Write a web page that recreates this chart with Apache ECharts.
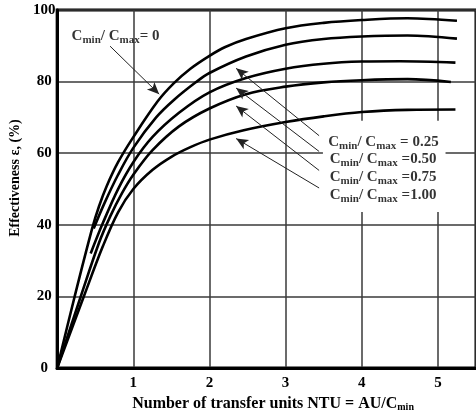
<!DOCTYPE html>
<html>
<head>
<meta charset="utf-8">
<script src="https://cdn.jsdelivr.net/npm/echarts@6/dist/echarts.min.js"></script>
<style>
html, body { margin: 0; padding: 0; background: #fff; }
#chart { width: 476px; height: 417px; }
</style>
</head>
<body>
<div id="chart"></div>
<script>
// curves: [NTU, effectiveness %]
let crLabels = ['0', '0.25', '0.50', '0.75', '1.00'];
let curveCr0 = [[0,0],[0.23,20],[0.46,39],[0.55,45.2],[0.65,50.8],[0.8,57.5],[1.0,64.5],[1.32,74.5],[1.53,79.5],[1.75,83.6],[2.0,87.2],[2.2,89.6],[2.48,91.9],[3.0,94.9],[3.5,96.4],[4.0,97.2],[4.6,97.7],[5.25,97.0]];
let curveCr025 = [[0.48,39],[0.62,46],[0.8,54],[1.0,61.5],[1.3,70],[1.54,75],[1.82,79.8],[2.0,82.4],[2.48,87],[3.0,90.3],[3.5,91.9],[4.0,92.6],[4.6,92.9],[5.25,92.0]];
let curveCr050 = [[0.44,32],[0.6,40.5],[0.8,50],[1.0,57.5],[1.25,64.5],[1.6,71.3],[2.0,77],[2.48,81.0],[3.0,83.6],[3.5,85],[4.0,85.6],[4.5,85.7],[5.23,85.3]];
let curveCr075 = [[0,0],[0.31,20],[0.55,35],[0.7,42.5],[0.85,48.8],[1.0,54],[1.25,60.8],[1.6,67.5],[2.0,72.5],[2.48,76.5],[3.0,78.6],[3.5,79.8],[4.0,80.4],[4.6,80.7],[5.17,79.9]];
let curveCr100 = [[0,0],[0.35,20],[0.6,34],[0.8,43.5],[1.0,50],[1.25,55.3],[1.5,59],[1.75,61.7],[2.0,63.8],[2.45,66.4],[3.0,68.7],[3.5,70.3],[4.0,71.5],[4.6,72.1],[5.23,72.2]];

// annotation anchors (data coords)
let labelText = ['= 0', ' = 0.25', ' =0.50', ' =0.75', ' =1.00'];
let labelAt = [[0.19,93.5],[3.56,63.8],[3.58,59.1],[3.58,54.0],[3.58,49.1]];
let arrowFrom = [[0.695,89.9],[3.44,64.9],[3.44,60.5],[3.44,55.2],[3.44,50.3]];
let arrowTo = [[1.34,76.5],[2.35,83.7],[2.35,78.2],[2.35,73.2],[2.35,64.1]];

let serif = 'Liberation Serif';
let chart = echarts.init(document.getElementById('chart'));

let curves = [curveCr0, curveCr025, curveCr050, curveCr075, curveCr100];
let series = [];
for (let i in curves) {
    series.push({
        name: 'Cmin/Cmax=' + crLabels[i],
        type: 'line',
        data: curves[i],
        smooth: 0.35,
        showSymbol: false,
        lineStyle: { color: '#000', width: 2.6 }
    });
}

let arrows = [];
for (let i in arrowFrom) {
    arrows.push([
        { coord: arrowFrom[i], symbol: 'none' },
        { coord: arrowTo[i], symbol: 'arrow' }
    ]);
}

let labelData = [];
for (let i in labelAt) {
    labelData.push({ value: labelAt[i], name: labelText[i] });
}

series.push({
    type: 'scatter',
    data: labelData,
    symbolSize: 0,
    label: {
        show: true,
        position: 'right',
        distance: 0,
        offset: [0, 3],
        formatter: function (p) {
            return '{b|C}{s|min}{b|/ C}{s|max}{b|' + p.name + '}';
        },
        rich: {
            b: { fontFamily: serif, fontWeight: 'bold', fontSize: 15, color: '#000', lineHeight: 16, verticalAlign: 'top' },
            s: { fontFamily: serif, fontWeight: 'bold', fontSize: 11, color: '#000', lineHeight: 16, verticalAlign: 'top', padding: [6, 0, 0, 0] }
        }
    },
    markLine: {
        silent: true,
        symbolSize: [8, 12],
        label: { show: false },
        lineStyle: { color: '#222', width: 1, type: 'solid' },
        data: arrows
    },
    markArea: {
        silent: true,
        itemStyle: { color: '#fff' },
        data: [[{ coord: [3.49, 43.6] }, { coord: [5.1, 69.1] }]]
    }
});

let option = {
    animation: false,
    backgroundColor: '#fff',
    grid: {
        left: 53, right: -2, top: 10, bottom: 45,
        show: true, borderColor: '#000', borderWidth: 3
    },
    xAxis: {
        type: 'value',
        min: 0, max: 5.5, interval: 1,
        axisLine: { lineStyle: { color: '#000', width: 3 } },
        axisTick: { show: false },
        axisLabel: {
            showMinLabel: false, showMaxLabel: false, margin: 8,
            fontFamily: serif, fontWeight: 'bold', fontSize: 15, color: '#000'
        },
        splitLine: { show: true, lineStyle: { color: '#3a3a3a', width: 1.5 } },
        name: '{b|Number of transfer units NTU = AU/C}{s|min}',
        nameLocation: 'middle',
        nameGap: 21,
        nameTextStyle: {
            padding: [0, 0, 0, 13],
            rich: {
                b: { fontFamily: serif, fontWeight: 'bold', fontSize: 16, color: '#000', lineHeight: 17, verticalAlign: 'top' },
                s: { fontFamily: serif, fontWeight: 'bold', fontSize: 10, color: '#000', lineHeight: 17, verticalAlign: 'top', padding: [6, 0, 0, 0] }
            }
        }
    },
    yAxis: {
        type: 'value',
        min: 0, max: 100, interval: 20,
        axisLine: { show: true, lineStyle: { color: '#000', width: 3 } },
        axisTick: { show: false },
        axisLabel: {
            margin: 13, align: 'center',
            fontFamily: serif, fontWeight: 'bold', fontSize: 15, color: '#000'
        },
        splitLine: { show: true, lineStyle: { color: '#3a3a3a', width: 1.5 } },
        name: 'Effectiveness ε, (%)',
        nameLocation: 'middle',
        nameRotate: 90,
        nameGap: 33,
        nameTextStyle: {
            fontFamily: serif, fontWeight: 'bold', fontSize: 14, color: '#000',
            padding: [0, 0, 0, 22]
        }
    },
    series: series
};

chart.setOption(option);
</script>
</body>
</html>
